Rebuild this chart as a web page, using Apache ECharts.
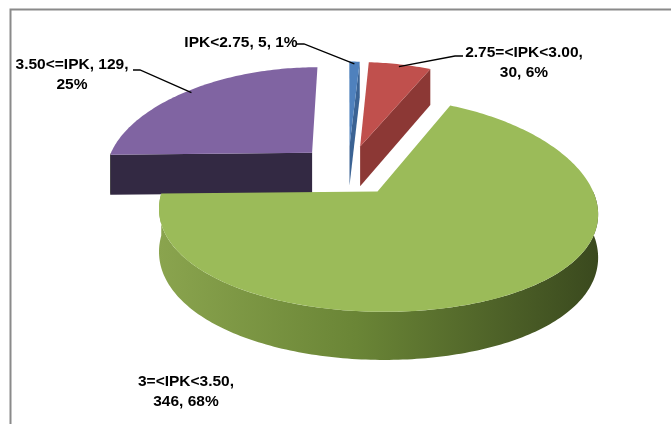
<!DOCTYPE html>
<html>
<head>
<meta charset="utf-8">
<script src="https://cdn.jsdelivr.net/npm/echarts@6/dist/echarts.min.js"></script>
<style>
  html, body { margin: 0; padding: 0; background: #ffffff; }
  #chart { width: 671px; height: 424px; }
</style>
</head>
<body>
<div id="chart"></div>
<script>
// IPK distribution, drawn as an exploded 3D pie
const categories = ['IPK<2.75', '2.75=<IPK<3.00', '3=<IPK<3.50', '3.50<=IPK'];
const counts = [5, 30, 346, 129];
const percents = [1, 6, 68, 25];

// slice colours: top face, cut face
const topColors = ['#4F81BD', '#C0504D', '#9BBB59', '#8064A2'];
const faceColors = ['#3B6394', '#8C3835', '#6E8A3A', '#332943'];
// painting order (back to front)
const depthRank = [2, 3, 4, 1];

// label placement: centre of the text block plus leader bend points
const labelLayout = [
  { x: 241, y: 43, leader: [[297, 44], [304, 44]] },
  { x: 524, y: 63, leader: [[463, 56], [455, 56]] },
  { x: 186, y: 392, leader: null },
  { x: 72, y: 75, leader: [[133, 70], [140, 70]] }
];
const labelTexts = categories.map(function (c, i) {
  return i === 0
    ? c + ', ' + counts[i] + ', ' + percents[i] + '%'
    : i === 3
      ? c + ', ' + counts[i] + ',\n' + percents[i] + '%'
      : c + ',\n' + counts[i] + ', ' + percents[i] + '%';
});

// projection of the tilted disc
const CX = 348, CY = 170;   // centre of the top plane
const RX = 207.5, RY = 100; // radii of the top ellipse
const PERSP_X = 0.18;       // horizontal foreshortening towards the back
const PERSP_Y = 0.122;      // vertical foreshortening towards the back
const DEPTH = 41;           // thickness of the pie
const EXPLODE = 0.25;       // slice offset, in radius units

function proj(X, V, down) {
  const sx = 1 / (1 + PERSP_X * V);
  const sy = 1 / (1 + PERSP_Y * V);
  return [CX + RX * X * sx, CY - RY * V * sy + (down ? DEPTH * sy : 0)];
}

const total = counts.reduce(function (a, b) { return a + b; }, 0);
const starts = [], ends = [];
let acc = 0;
counts.forEach(function (c) {
  starts.push(acc / total * Math.PI * 2);
  acc += c;
  ends.push(acc / total * Math.PI * 2);
});

function renderSlice(params, api) {
  const i = params.dataIndex;
  const a0 = starts[i], a1 = ends[i], mid = (a0 + a1) / 2;
  const ex = EXPLODE * Math.sin(mid), ev = EXPLODE * Math.cos(mid);
  const pt = function (ang, r, down) {
    return proj(ex + r * Math.sin(ang), ev + r * Math.cos(ang), down);
  };
  const z = depthRank[i] * 10;
  const children = [];
  const steps = Math.max(2, Math.ceil((a1 - a0) / (Math.PI / 180)));

  // curved outer wall, front half only
  const s0 = Math.max(a0, Math.PI / 2), s1 = Math.min(a1, Math.PI * 1.5);
  if (s1 > s0) {
    const n = Math.max(2, Math.ceil((s1 - s0) / (Math.PI / 180)));
    const topEdge = [], botEdge = [];
    for (let k = 0; k <= n; k++) {
      const ang = s0 + (s1 - s0) * k / n;
      topEdge.push(pt(ang, 1, false));
      botEdge.push(pt(ang, 1, true));
    }
    children.push({
      type: 'polygon',
      z2: z + 1,
      shape: { points: topEdge.concat(botEdge.reverse()) },
      style: {
        fill: {
          type: 'linear', x: 0, y: 0, x2: 1, y2: 0,
          colorStops: [
            { offset: 0, color: '#8AA44E' },
            { offset: 0.45, color: '#6A8536' },
            { offset: 1, color: '#3A491E' }
          ]
        }
      }
    });
  }

  // radial cut faces that turn towards the viewer
  const apexTop = proj(ex, ev, false), apexBot = proj(ex, ev, true);
  if (Math.sin(a0) < -1e-6) {
    children.push({
      type: 'polygon', z2: z + 2,
      shape: { points: [apexTop, pt(a0, 1, false), pt(a0, 1, true), apexBot] },
      style: { fill: faceColors[i] }
    });
  }
  if (Math.sin(a1) > 1e-6) {
    children.push({
      type: 'polygon', z2: z + 2,
      shape: { points: [apexTop, pt(a1, 1, false), pt(a1, 1, true), apexBot] },
      style: { fill: faceColors[i] }
    });
  }

  // top face
  const topPts = [apexTop];
  for (let k = 0; k <= steps; k++) topPts.push(pt(a0 + (a1 - a0) * k / steps, 1, false));
  children.push({
    type: 'polygon', z2: z + 3,
    shape: { points: topPts },
    style: { fill: topColors[i] }
  });

  // data label and leader
  const lay = labelLayout[i];
  children.push({
    type: 'text', z2: 100,
    style: {
      text: labelTexts[i],
      x: lay.x, y: lay.y,
      textAlign: 'center', textVerticalAlign: 'middle',
      font: 'bold 15.5px "Liberation Sans", Arial, sans-serif',
      lineHeight: 20,
      fill: '#000000'
    }
  });
  if (lay.leader) {
    const anchor = pt(mid, 0.97, false);
    children.push({
      type: 'polyline', z2: 99,
      shape: { points: lay.leader.concat([anchor]) },
      style: { stroke: '#000000', lineWidth: 1.3, fill: null }
    });
  }
  return { type: 'group', children: children };
}

const chart = echarts.init(document.getElementById('chart'), null, { renderer: 'canvas' });
chart.setOption({
  backgroundColor: '#ffffff',
  animation: false,
  graphic: [{
    type: 'polyline',
    shape: { points: [[10.5, 424], [10.5, 9.5], [671, 9.5]] },
    style: { stroke: '#8A8A8A', lineWidth: 2, fill: null }
  }],
  series: [{
    type: 'custom',
    coordinateSystem: 'none',
    renderItem: renderSlice,
    data: categories.map(function (c, i) {
      return { name: c, value: [counts[i], percents[i]] };
    })
  }]
});
</script>
</body>
</html>
